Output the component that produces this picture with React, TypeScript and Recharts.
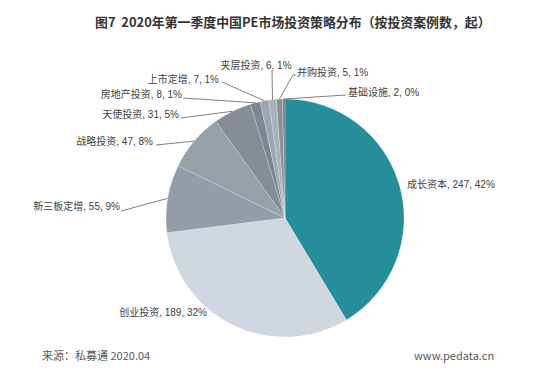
import React from "react";
import { PieChart, Pie, Cell } from "recharts";

const categories = ["成长资本", "创业投资", "新三板定增", "战略投资", "天使投资", "房地产投资", "上市定增", "夹层投资", "并购投资", "基础设施"];
const counts = [247, 189, 55, 47, 31, 8, 7, 6, 5, 2];
const percents = ["42%", "32%", "9%", "8%", "5%", "1%", "1%", "1%", "1%", "0%"];
const colors = ["#258E9A", "#D0D6DF", "#939DA9", "#979FA9", "#868D97", "#7E8590", "#9DA6B1", "#A9B0BA", "#8A919B", "#7A808A"];

// label placement (text anchor point, leader line end); layout only
const labelSpots = [
  { x: 407, y: 184, anchor: "start", line: null },
  { x: 207, y: 312, anchor: "end", line: null },
  { x: 120, y: 206, anchor: "end", line: [[121, 211]] },
  { x: 153, y: 141, anchor: "end", line: [[156, 145]] },
  { x: 179, y: 114, anchor: "end", line: [[181, 118]] },
  { x: 182, y: 94, anchor: "end", line: [[183, 98]] },
  { x: 219, y: 79, anchor: "end", line: [[222, 82]] },
  { x: 256, y: 65, anchor: "middle", line: [[272, 70]] },
  { x: 297, y: 72, anchor: "start", line: [[293, 75], [296, 75]] },
  { x: 348, y: 92, anchor: "start", line: [[346, 95]] },
];

const data = categories.map((name, i) => ({ name, value: counts[i], pct: percents[i] }));

const RAD = Math.PI / 180;

const renderLabel = (props: any) => {
  const { cx, cy, midAngle, outerRadius, index } = props;
  const spot = labelSpots[index];
  const ex = cx + outerRadius * Math.cos(-midAngle * RAD);
  const ey = cy + outerRadius * Math.sin(-midAngle * RAD);
  const d = data[index];
  let path = "";
  if (spot.line) {
    path = `M${ex},${ey}` + spot.line.map((p: number[]) => ` L${p[0]},${p[1]}`).join("");
  }
  return (
    <g key={`lbl-${index}`}>
      {path && <path d={path} stroke="#7F7F7F" strokeWidth={1} fill="none" />}
      <text
        x={spot.x}
        y={spot.y}
        textAnchor={spot.anchor as any}
        dominantBaseline="central"
        fontSize={10}
        fill="#404040"
        fontFamily="'Liberation Sans', 'Noto Sans CJK SC', sans-serif"
      >
        {`${d.name}, ${d.value}, ${d.pct}`}
      </text>
    </g>
  );
};

export default function App() {
  return (
    <div style={{ position: "absolute", left: 0, top: 0, width: 554, height: 374, background: "#fff", fontFamily: "'Noto Sans CJK SC', sans-serif" }}>
      <div style={{ position: "absolute", left: 95, top: 12, fontSize: 12.9, fontWeight: "bold", color: "#333", lineHeight: "20px", whiteSpace: "nowrap" }}>
        图7&nbsp;&nbsp;2020年第一季度中国PE市场投资策略分布（按投资案例数，起）
      </div>
      <PieChart width={554} height={374} margin={{ top: 0, right: 0, bottom: 0, left: 0 }} style={{ position: "absolute", left: 0, top: 0 }}>
        <Pie
          data={data}
          dataKey="value"
          nameKey="name"
          cx={285}
          cy={218}
          outerRadius={119}
          startAngle={90}
          endAngle={-270}
          stroke="#FFFFFF"
          strokeWidth={0.3}
          strokeOpacity={0.7}
          isAnimationActive={false}
          label={renderLabel}
          labelLine={false}
        >
          {data.map((d, i) => (
            <Cell key={d.name} fill={colors[i]} />
          ))}
        </Pie>
      </PieChart>
      <div style={{ position: "absolute", left: 42, top: 347, fontSize: 11, color: "#595959", lineHeight: "16px", whiteSpace: "nowrap" }}>
        来源：私募通 2020.04
      </div>
      <div style={{ position: "absolute", left: 414, top: 347, fontSize: 11, color: "#595959", lineHeight: "16px", whiteSpace: "nowrap" }}>
        www.pedata.cn
      </div>
    </div>
  );
}
